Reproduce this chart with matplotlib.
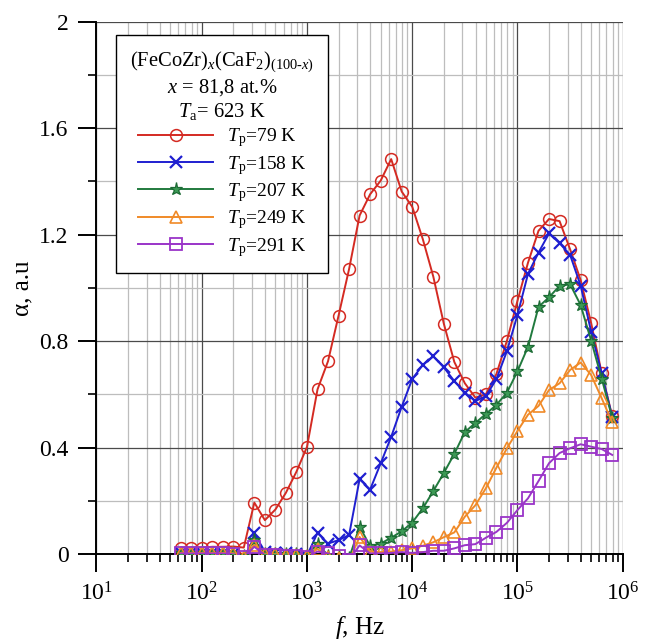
import matplotlib
matplotlib.use("Agg")
import matplotlib.pyplot as plt
from matplotlib.ticker import LogLocator, NullFormatter, FixedLocator

plt.rcParams['font.family'] = ['Liberation Serif', 'DejaVu Serif']
plt.rcParams['mathtext.fontset'] = 'custom'
plt.rcParams['mathtext.rm'] = 'Liberation Serif'
plt.rcParams['mathtext.it'] = 'Liberation Serif:italic'
plt.rcParams['mathtext.bf'] = 'Liberation Serif:bold'

# Measurement frequencies, Hz
freq = [63, 79, 100, 126, 158, 200, 251, 316, 398, 501, 631, 794,
        1000, 1259, 1585, 1995, 2512, 3162, 3981, 5012, 6310, 7943,
        10000, 12589, 15849, 19953, 25119, 31623, 39811, 50119, 63096, 79433,
        100000, 125893, 158489, 199526, 251189, 316228, 398107, 501187, 630957, 794328]

# Absorption alpha (a.u.) for each probe temperature
alpha_79 = [0.025, 0.025, 0.025, 0.028, 0.028, 0.029, 0.025, 0.194, 0.128, 0.168, 0.231, 0.310,
            0.403, 0.619, 0.725, 0.896, 1.071, 1.272, 1.352, 1.403, 1.484, 1.362,
            1.305, 1.184, 1.043, 0.866, 0.722, 0.642, 0.588, 0.601, 0.677, 0.802,
            0.952, 1.095, 1.215, 1.259, 1.251, 1.145, 1.030, 0.868, 0.680, 0.519]
alpha_158 = [0.005, 0.005, 0.005, 0.004, 0.004, 0.0, -0.045, 0.078, 0.010, 0.005, 0.005, 0.0,
             -0.005, 0.080, 0.040, 0.053, 0.072, 0.282, 0.243, 0.341, 0.441, 0.554,
             0.658, 0.711, 0.743, 0.702, 0.650, 0.607, 0.575, 0.594, 0.658, 0.763,
             0.899, 1.053, 1.133, 1.205, 1.168, 1.124, 1.009, 0.836, 0.679, 0.516]
alpha_207 = [0.005, 0.005, 0.005, 0.005, 0.005, 0.003, -0.008, 0.053, 0.0, 0.0, 0.0, 0.0,
             -0.005, 0.040, -0.005, -0.010, -0.015, 0.104, 0.030, 0.040, 0.062, 0.086,
             0.119, 0.172, 0.237, 0.305, 0.377, 0.459, 0.493, 0.527, 0.561, 0.607,
             0.687, 0.779, 0.929, 0.965, 1.008, 1.014, 0.936, 0.802, 0.660, 0.513]
alpha_249 = [0.005, 0.005, 0.005, 0.005, 0.005, 0.003, -0.010, 0.035, 0.0, 0.0, -0.002, -0.003,
             -0.008, 0.020, -0.010, -0.015, -0.025, 0.065, 0.010, 0.008, 0.010, 0.015,
             0.022, 0.032, 0.045, 0.064, 0.082, 0.141, 0.184, 0.248, 0.325, 0.398,
             0.463, 0.524, 0.557, 0.617, 0.642, 0.692, 0.720, 0.673, 0.586, 0.495]
alpha_291 = [0.003, 0.003, 0.003, 0.003, 0.003, 0.0, -0.010, 0.028, -0.003, -0.003, -0.005, -0.005,
             -0.010, 0.010, 0.003, -0.007, -0.020, 0.033, 0.003, 0.003, 0.005, 0.008,
             0.005, 0.008, 0.013, 0.013, 0.022, 0.034, 0.038, 0.062, 0.084, 0.118,
             0.166, 0.210, 0.275, 0.342, 0.380, 0.398, 0.413, 0.404, 0.395, 0.373]

series_labels = ["$T$$_{\\rm p}$=79 K", "$T$$_{\\rm p}$=158 K", "$T$$_{\\rm p}$=207 K",
                 "$T$$_{\\rm p}$=249 K", "$T$$_{\\rm p}$=291 K"]
y_ticks = [0, 0.4, 0.8, 1.2, 1.6, 2]
y_ticklabels = ["0", "0.4", "0.8", "1.2", "1.6", "2"]
x_ticks = [1e1, 1e2, 1e3, 1e4, 1e5, 1e6]
x_ticklabels = ["$10^{1}$", "$10^{2}$", "$10^{3}$", "$10^{4}$", "$10^{5}$", "$10^{6}$"]

fig = plt.figure(figsize=(6.48, 6.42), dpi=100)
ax = fig.add_axes([0.1489, 0.1367, 0.9610 - 0.1489, 0.9662 - 0.1367])

styles = [
    dict(color='#d42a22', marker='o', mfc='none', mec='#d42a22', ms=8.5, mew=1.1),
    dict(color='#1f1fd0', marker='x', mfc='none', mec='#1f1fd0', ms=8.5, mew=1.6),
    dict(color='#217a3e', marker='*', mfc='#3c9a55', mec='#1d6b35', ms=9.5, mew=0.9),
    dict(color='#f08a28', marker='^', mfc='none', mec='#f08a28', ms=8.5, mew=1.2),
    dict(color='#9a34c8', marker='s', mfc='none', mec='#9a34c8', ms=8.5, mew=1.3),
]
data = [alpha_79, alpha_158, alpha_207, alpha_249, alpha_291]
for vals, lab, st in zip(data, series_labels, styles):
    ax.plot(freq, vals, lw=1.4, label=lab, zorder=3, **st)

ax.set_xscale('log')
ax.set_xlim(1e1, 1e6)
ax.set_ylim(0, 2)

ax.set_xticks(x_ticks)
ax.set_xticklabels(x_ticklabels)
ax.xaxis.set_minor_locator(LogLocator(base=10, subs=range(2, 10), numticks=20))
ax.xaxis.set_minor_formatter(NullFormatter())
ax.set_yticks(y_ticks)
ax.set_yticklabels(y_ticklabels)
ax.yaxis.set_minor_locator(FixedLocator([0.2, 0.6, 1.0, 1.4, 1.8]))

ax.grid(which='major', color='#4a4a4a', lw=0.9, zorder=0)
ax.grid(which='minor', color='#bdbdbd', lw=0.9, zorder=0)
ax.set_axisbelow(True)

for side in ('top', 'right'):
    ax.spines[side].set_visible(False)
for side in ('left', 'bottom'):
    ax.spines[side].set_linewidth(1.4)
    ax.spines[side].set_color('black')

ax.tick_params(which='major', direction='out', length=13, width=1.4, labelsize=17, pad=7)
ax.tick_params(which='minor', direction='out', length=6, width=1.2)

ax.set_ylabel("α, a.u", fontsize=18, labelpad=4)
ax.set_xlabel("$f$, Hz", fontsize=18, labelpad=6)

title = ("(FeCoZr)$_{x}$(CaF$_{2}$)$_{(100\\text{-}x)}$\n"
         "$x$ = 81,8 at.%\n"
         "$T$$_{\\rm a}$= 623 K")
leg = ax.legend(loc='upper left', bbox_to_anchor=(0.0373, 0.9755), borderaxespad=0,
                title=title, title_fontsize=14.8, fontsize=14, handlelength=3.9,
                handletextpad=0.7, numpoints=1, labelspacing=0.23, fancybox=False,
                framealpha=1, edgecolor='black', borderpad=0.72)
leg.get_title().set_multialignment('center')
leg.get_frame().set_linewidth(1.0)
leg.set_zorder(5)

fig.savefig("out.png", dpi=100)
